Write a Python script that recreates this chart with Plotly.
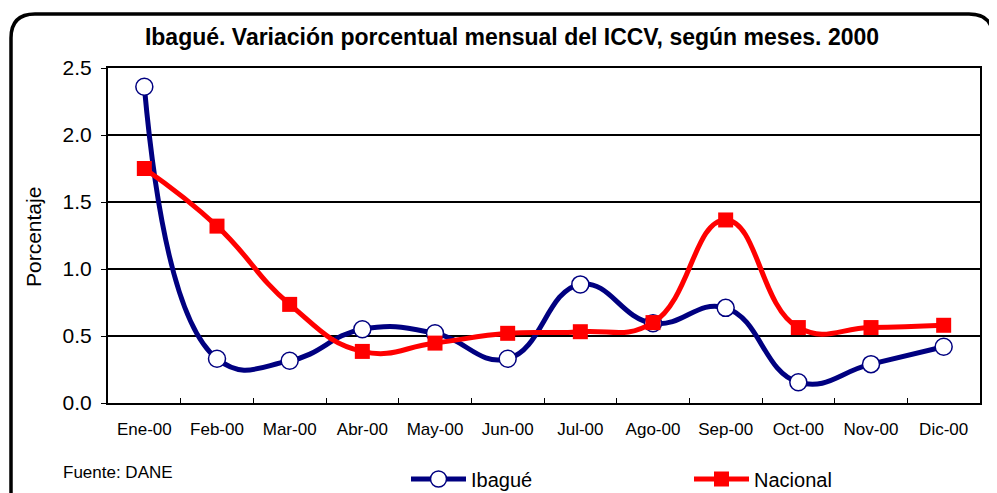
import plotly.graph_objects as go

months = ["Ene-00", "Feb-00", "Mar-00", "Abr-00", "May-00", "Jun-00",
          "Jul-00", "Ago-00", "Sep-00", "Oct-00", "Nov-00", "Dic-00"]
ibague = [2.36, 0.33, 0.315, 0.55, 0.52, 0.33, 0.885, 0.595, 0.71, 0.155, 0.29, 0.42]
nacional = [1.75, 1.32, 0.736, 0.385, 0.447, 0.52, 0.532, 0.60, 1.366, 0.563, 0.563, 0.58]
y_ticks = [0.0, 0.5, 1.0, 1.5, 2.0, 2.5]

OFF = 8  # page body margin
W, H = 989, 485
# desired plot area in page pixels: x 108..980, y 68..403
ML, MT = 108 - OFF, 68 - OFF
PW, PH = 872, 335
MR, MB = W - ML - PW, H - MT - PH

def px(x):  # page pixel -> paper
    return (x - OFF - ML) / PW

def py(y):
    return (MT + PH - (y - OFF)) / PH

FONT = "Liberation Sans, Arial, sans-serif"

fig = go.Figure()
fig.add_trace(go.Scatter(
    x=months, y=ibague, name="Ibagué", mode="lines+markers",
    line=dict(color="#000080", width=5, shape="spline", smoothing=1.3),
    marker=dict(symbol="circle", size=17, color="white",
                line=dict(color="#000080", width=1.5)),
))
fig.add_trace(go.Scatter(
    x=months, y=nacional, name="Nacional", mode="lines+markers",
    line=dict(color="#ff0000", width=5, shape="spline", smoothing=1.3),
    marker=dict(symbol="square", size=15, color="#ff0000",
                line=dict(color="#ff0000", width=0)),
))

# rounded outer frame
L, T, R, B, r = 11, 14, 993, 530, 24
path = (f"M {px(L)},{py(T + r)} Q {px(L)},{py(T)} {px(L + r)},{py(T)} "
        f"L {px(R - r)},{py(T)} Q {px(R)},{py(T)} {px(R)},{py(T + r)} "
        f"L {px(R)},{py(B)} L {px(L)},{py(B)} Z")
fig.add_shape(type="path", path=path, xref="paper", yref="paper",
              line=dict(color="black", width=3.5), layer="above")

fig.add_annotation(text="Fuente: DANE", xref="paper", yref="paper",
                   x=px(61), y=py(472), xanchor="left", yanchor="middle",
                   showarrow=False, font=dict(family=FONT, size=17, color="black"))
fig.add_annotation(text="Porcentaje", xref="paper", yref="paper",
                   x=px(33), y=py(237), xanchor="center", yanchor="middle",
                   textangle=-90, showarrow=False,
                   font=dict(family=FONT, size=21, color="black"))

fig.update_layout(
    width=W, height=H,
    margin=dict(l=ML, r=MR, t=MT, b=MB, autoexpand=False),
    paper_bgcolor="white", plot_bgcolor="white",
    font=dict(family=FONT, color="black"),
    title=dict(text="<b>Ibagué. Variación porcentual mensual del ICCV, según meses. 2000</b>",
               x=(512 - OFF) / W, xanchor="center", y=1 - (37 - OFF) / H, yanchor="middle",
               font=dict(family=FONT, size=23, color="black")),
    showlegend=True,
    legend=dict(orientation="h", x=px(406), y=py(479), xanchor="left", yanchor="middle",
                font=dict(family=FONT, size=20, color="black"),
                entrywidth=213, entrywidthmode="pixels",
                bgcolor="rgba(0,0,0,0)", itemwidth=55),
    xaxis=dict(type="category", tickson="boundaries", ticks="inside", ticklen=5,
               tickcolor="black", tickwidth=1, showgrid=False,
               showline=True, linecolor="black", linewidth=2, mirror=True,
               tickfont=dict(family=FONT, size=17, color="black"),
               ticklabelstandoff=10,
               range=[-0.5, 11.5]),
    yaxis=dict(range=[0, 2.5], tickvals=y_ticks,
               ticktext=[f"{v:.1f}" for v in y_ticks],
               ticks="outside", ticklen=5, tickcolor="black", tickwidth=1,
               showgrid=True, gridcolor="black", gridwidth=1.5,
               showline=True, linecolor="black", linewidth=2, mirror=True,
               zeroline=False, ticklabelstandoff=5,
               tickfont=dict(family=FONT, size=21, color="black")),
)

fig.write_html("out.html")
